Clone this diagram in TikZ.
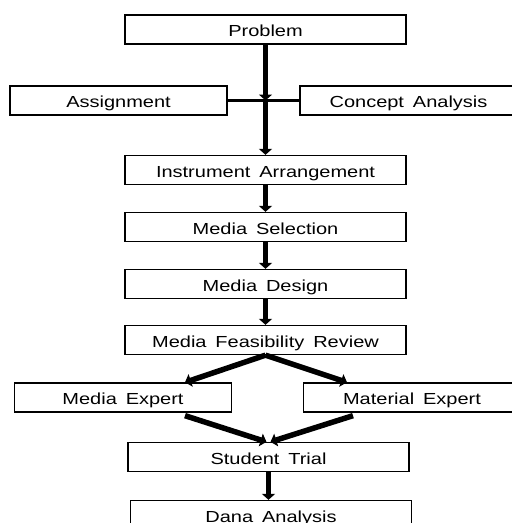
\documentclass[tikz,border=0pt]{standalone}
\usepackage{fontspec}
\setmainfont{Liberation Sans}[FakeStretch=1.25, WordSpace=1.6]
\usetikzlibrary{arrows.meta,positioning,calc}
\tikzset{
  stepbox/.style={draw, line width=1.3pt, minimum height=29pt, inner sep=0pt,
    text height=16pt, text depth=2pt, font=\fontsize{16}{19}\selectfont},
  widebox/.style={stepbox, minimum width=281pt},
  sidebox/.style={stepbox, minimum width=217pt},
  flow/.style={-{Triangle[length=6pt,width=13pt]}, line width=5.5pt},
  joinln/.style={line width=3pt},
}

\begin{document}
\begin{tikzpicture}[x=1pt,y=-1pt]
    \useasboundingbox (0,0) rectangle (512,523);
    % main column
    \node[widebox] (prob) at (265.5,29.5) {Problem};
    \node[widebox] (instr) at (265.5,170) {Instrument Arrangement};
    \node[widebox] (sel) at (265.5,227) {Media Selection};
    \node[widebox] (design) at (265.5,284) {Media Design};
    \node[widebox] (review) at (265.5,340) {Media Feasibility Review};
    \node[widebox] (trial) at (268.5,457) {Student Trial};
    \node[widebox] (dana) at (271,515) {Dana Analysis};
    % side boxes
    \node[sidebox] (assign) at (118.5,100.5) {Assignment};
    \node[sidebox] (concept) at (408.5,100.5) {Concept Analysis};
    \node[sidebox] (mexp) at (123,397.5) {Media Expert};
    \node[sidebox] (matexp) at (412,397.5) {Material Expert};
    % join of the side boxes
    \coordinate (hub) at (prob.south |- assign.east);
    \draw[joinln] (assign.east) -- (concept.west);
    \draw[flow] (prob.south) -- (hub);
    \draw[flow] (hub) -- (instr.north);
    % column arrows
    \draw[flow] (instr.south) -- (sel.north);
    \draw[flow] (sel.south) -- (design.north);
    \draw[flow] (design.south) -- (review.north);
    % review split
    \draw[flow] (review.south) -- ([xshift=62pt]mexp.north);
    \draw[flow] (review.south) -- ([xshift=-65pt]matexp.north);
    % experts merge
    \draw[flow] ([xshift=62pt,yshift=-3pt]mexp.south) -- ([xshift=-2pt]trial.north);
    \draw[flow] ([xshift=-59pt,yshift=-3pt]matexp.south) -- ([xshift=2pt]trial.north);
    \draw[flow] (trial.south) -- (trial.south |- dana.north);
\end{tikzpicture}
\end{document}
